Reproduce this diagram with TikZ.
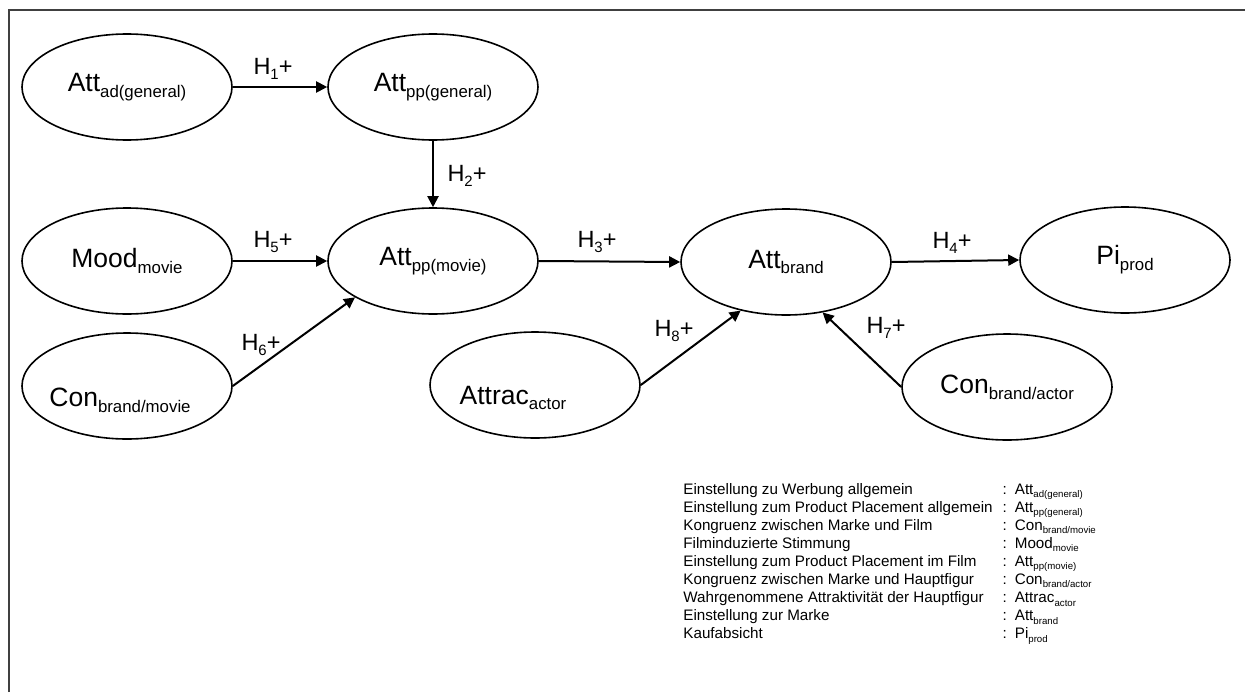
\documentclass[tikz,border=0pt]{standalone}
\usepackage{fontspec}
\setmainfont{Liberation Sans}
\usetikzlibrary{arrows.meta,shapes.geometric}

\newcommand{\sub}[1]{\raisebox{-0.22em}{\fontsize{0.635em}{0.635em}\selectfont #1}}

\begin{document}
\begin{tikzpicture}[x=0.5bp,y=-0.5bp]
% Styles
\tikzset{
    ell/.style={ellipse, draw, line width=0.8bp, minimum width=105bp, minimum height=53bp,
        inner sep=0pt, font=\fontsize{13.25bp}{15bp}\selectfont},
    txt/.style={inner sep=0pt, font=\fontsize{13.25bp}{15bp}\selectfont},
    hyp/.style={inner sep=0pt, font=\fontsize{11.75bp}{13bp}\selectfont},
    arr/.style={-{Triangle[length=5.5bp,width=5.5bp]}, line width=1bp}
}
\useasboundingbox (0,0) rectangle (1245,692);

% Frame
\draw[line width=1bp, black!75] (9,692) -- (9,10) -- (1245,10);

% Nodes
\node[ell] (ATTAD) at (127,87) {Att\sub{ad(general)}};
\node[ell] (ATTPPG) at (433,87) {Att\sub{pp(general)}};
\node[ell] (MOOD) at (127,261) {Mood\sub{movie}};
\node[ell] (ATTPPM) at (433,261) {Att\sub{pp(movie)}};
\node[ell] (CONBM) at (127,386) {};
\node[txt] (CONBMT) at (120,400) {Con\sub{brand/movie}};
\node[ell] (ATTRAC) at (535,385) {};
\node[txt] (ATTRACT) at (513,398) {Attrac\sub{actor}};
\node[ell] (ATTBR) at (786,262) {Att\sub{brand}};
\node[ell] (PI) at (1125,260) {Pi\sub{prod}};
\node[ell] (CONBA) at (1007,387) {Con\sub{brand/actor}};

% Connections
\draw[arr] (ATTAD.east) -- (ATTPPG.west);
\draw[arr] (ATTPPG.south) -- (ATTPPM.north);
\draw[arr] (MOOD.east) -- (ATTPPM.west);
\draw[arr] (CONBM.east) -- (ATTPPM.205);
\draw[arr] (ATTPPM.east) -- (ATTBR.west);
\draw[arr] (ATTBR.east) -- (PI.west);
\draw[arr] (ATTRAC.east) -- (ATTBR.227);
\draw[arr] (CONBA.west) -- (ATTBR.306);

% Hypotheses
\node[hyp] (H1) at (273,69) {H\sub{1}+};
\node[hyp] (H2) at (467,176) {H\sub{2}+};
\node[hyp] (H3) at (597,242) {H\sub{3}+};
\node[hyp] (H4) at (952,243) {H\sub{4}+};
\node[hyp] (H5) at (273,242) {H\sub{5}+};
\node[hyp] (H6) at (261,345) {H\sub{6}+};
\node[hyp] (H7) at (886,328) {H\sub{7}+};
\node[hyp] (H8) at (674,331) {H\sub{8}+};

% Legend
\node[anchor=north west, inner sep=0pt, font=\fontsize{7.6bp}{9.05bp}\selectfont] (LEG) at (683,481) {%
\begin{tabular}{@{}l@{\hspace{5bp}}l@{\hspace{4bp}}l@{}}
Einstellung zu Werbung allgemein & : & Att\sub{ad(general)}\\
Einstellung zum Product Placement allgemein & : & Att\sub{pp(general)}\\
Kongruenz zwischen Marke und Film & : & Con\sub{brand/movie}\\
Filminduzierte Stimmung & : & Mood\sub{movie}\\
Einstellung zum Product Placement im Film & : & Att\sub{pp(movie)}\\
Kongruenz zwischen Marke und Hauptfigur & : & Con\sub{brand/actor}\\
Wahrgenommene Attraktivität der Hauptfigur & : & Attrac\sub{actor}\\
Einstellung zur Marke & : & Att\sub{brand}\\
Kaufabsicht & : & Pi\sub{prod}
\end{tabular}};
\end{tikzpicture}
\end{document}
